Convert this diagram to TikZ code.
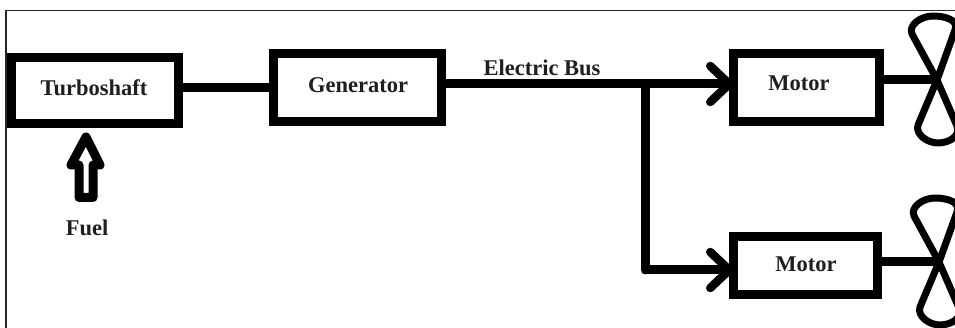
\documentclass[tikz,border=0pt]{standalone}
\usepackage{fontspec}
\setmainfont{Liberation Serif}
\usetikzlibrary{arrows.meta}
\tikzset{
  block/.style={draw=black,line width=9pt,fill=white,inner sep=0pt,outer sep=0pt,minimum width=#1},
  block/.default=150pt,
  caption/.style={font=\fontsize{22.5}{26}\selectfont\bfseries,text=black!88,inner sep=0pt},
  wire/.style={draw=black,line width=9pt},
  feed/.style={wire,-{Straight Barb[length=19pt,width=36pt,line width=8.5pt,round]}},
  blade/.style={draw=black,line width=7pt,line join=round,line cap=round},
  fuelarrow/.style={draw=black,line width=9pt,line join=round,fill=white},
  frame/.style={draw=black!85,line width=1.1pt}
}
\newcommand{\propeller}[1]{%
  \begin{scope}[shift={(#1)}]
  \draw[blade] (0,0) -- (-25,-46) .. controls (-29,-55) and (-16,-64) .. (-4,-64)
     .. controls (8,-64) and (22,-60) .. (18,-50) -- cycle;
  \draw[blade] (0,0) -- (-19,45) .. controls (-22,54) and (-10,63) .. (1,63)
     .. controls (13,63) and (24,55) .. (20,46) -- cycle;
  \end{scope}
}
\begin{document}
\begin{tikzpicture}[x=1pt,y=-1pt]
\useasboundingbox (0,0) rectangle (955,328);
\clip (0,0) rectangle (955,328);
\draw[frame] (6,328) -- (6,10.5) -- (955,10.5);

\node[block=167pt,minimum height=66pt] (turbo) at (95,90.5) {};
\node[block=168pt,minimum height=68pt] (gen) at (357.5,87.5) {};
\node[block=146pt,minimum height=68pt] (motorA) at (806.5,87.5) {};
\node[block=144pt,minimum height=58pt] (motorB) at (805.5,265.5) {};

\node[caption] (turboText) at (94,88) {Turboshaft};
\node[caption] (genText) at (358,85) {Generator};
\node[caption] (motorAText) at (799,83) {Motor};
\node[caption] (motorBText) at (806,264) {Motor};
\node[caption] (busText) at (542,68) {Electric Bus};
\node[caption] (fuelText) at (87,228) {Fuel};

\coordinate (hubA) at (937,80);
\coordinate (hubB) at (939,262);
\coordinate (bend) at (645.5,84);
\coordinate (corner) at (645.5,270);

\propeller{hubA}
\propeller{hubB}

\draw[wire] (turbo.east |- 0,87.5) -- (gen.west |- 0,87.5);
\draw[feed] (gen.east |- bend) -- (motorA.west |- bend);
\draw[wire,line cap=round] (bend) -- (corner);
\draw[feed] (corner) -- (motorB.west |- corner);
\draw[wire] (motorA.east |- hubA) -- (hubA);
\draw[wire] (motorB.east |- hubB) -- (hubB);

\draw[fuelarrow] (86,137) -- (100,165) -- (93,165) -- (93,197.5) -- (79,197.5) -- (79,165) -- (71,165) -- cycle;
\end{tikzpicture}
\end{document}
